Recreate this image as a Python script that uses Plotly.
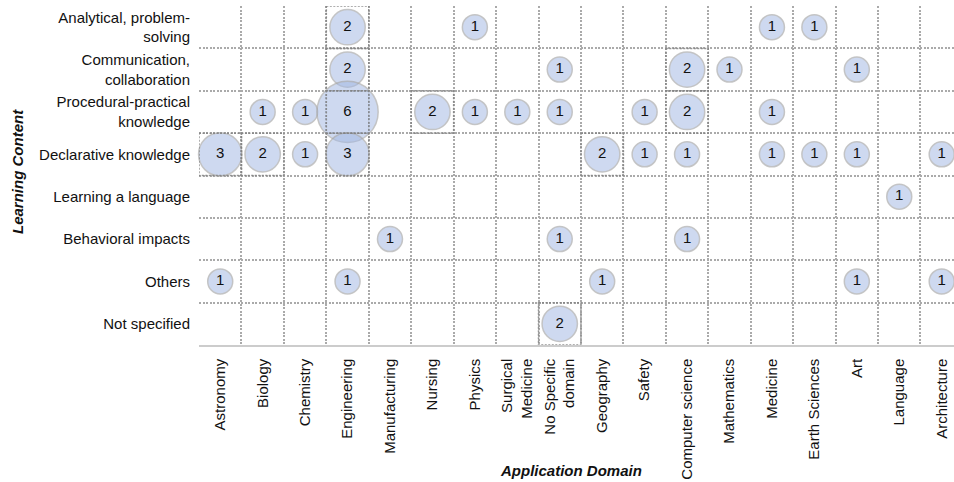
import math
import plotly.graph_objects as go

domains = ["Astronomy", "Biology", "Chemistry", "Engineering", "Manufacturing", "Nursing",
           "Physics", "Surgical<br>Medicine", "No Specific<br>domain", "Geography", "Safety",
           "Computer science", "Mathematics", "Medicine", "Earth Sciences", "Art", "Language",
           "Architecture"]
contents = ["Analytical, problem-<br>solving", "Communication,<br>collaboration",
            "Procedural-practical<br>knowledge", "Declarative knowledge", "Learning a language",
            "Behavioral impacts", "Others", "Not specified"]

#            Ast Bio Che Eng Man Nur Phy Sur NoS Geo Saf CS  Mat Med Ear Art Lan Arc
analytical  = [0, 0, 0, 2, 0, 0, 1, 0, 0, 0, 0, 0, 0, 1, 1, 0, 0, 0]
communic    = [0, 0, 0, 2, 0, 0, 0, 0, 1, 0, 0, 2, 1, 0, 0, 1, 0, 0]
procedural  = [0, 1, 1, 6, 0, 2, 1, 1, 1, 0, 1, 2, 0, 1, 0, 0, 0, 0]
declarative = [3, 2, 1, 3, 0, 0, 0, 0, 0, 2, 1, 1, 0, 1, 1, 1, 0, 1]
language    = [0, 0, 0, 0, 0, 0, 0, 0, 0, 0, 0, 0, 0, 0, 0, 0, 1, 0]
behavioral  = [0, 0, 0, 0, 1, 0, 0, 0, 1, 0, 0, 1, 0, 0, 0, 0, 0, 0]
others      = [1, 0, 0, 1, 0, 0, 0, 0, 0, 1, 0, 0, 0, 0, 0, 1, 0, 1]
unspecified = [0, 0, 0, 0, 0, 0, 0, 0, 2, 0, 0, 0, 0, 0, 0, 0, 0, 0]
counts = [analytical, communic, procedural, declarative, language, behavioral, others, unspecified]

FONT = "Liberation Sans, Arial, sans-serif"
FS = 15

xs, ys, vs = [], [], []
for r, row in enumerate(counts):
    for c, v in enumerate(row):
        if v > 0:
            xs.append(c)
            ys.append(r)
            vs.append(v)

fig = go.Figure()

# boxes around cells with count >= 2
shapes = []
for x, y, v in zip(xs, ys, vs):
    if v >= 2:
        shapes.append(dict(type="rect", xref="x", yref="y", x0=x - 0.5, x1=x + 0.5,
                           y0=y - 0.5, y1=y + 0.5, layer="above",
                           line=dict(color="rgba(130,130,130,0.85)", width=1.5, dash="2px,1.5px")))

fig.add_trace(go.Scatter(
    x=xs, y=ys, mode="markers+text", text=[str(v) for v in vs],
    textposition="middle center",
    textfont=dict(family=FONT, size=FS, color="#111"),
    marker=dict(size=[25 * math.sqrt(v) for v in vs], sizemode="diameter",
                color="rgba(162,183,226,0.74)",
                line=dict(color="rgba(165,165,165,0.9)", width=1.5)),
    cliponaxis=False, hoverinfo="skip", showlegend=False))

nx, ny = len(domains), len(contents)
grid_x = [i - 0.5 for i in range(nx + 1)]
grid_y = [i - 0.5 for i in range(ny + 1)]

fig.update_layout(
    width=954, height=482,
    margin=dict(l=199, r=0, t=6, b=137, autoexpand=False),
    paper_bgcolor="white", plot_bgcolor="white",
    font=dict(family=FONT, size=FS, color="#111"),
    shapes=shapes,
    xaxis=dict(range=[-0.5, 17.29], tickvals=list(range(nx)), ticktext=domains,
               tickangle=-90, showgrid=False, zeroline=False, ticks="",
               ticklabelstandoff=6, automargin=False,
               showline=True, linecolor="#cccccc", linewidth=1.5,
               tickfont=dict(family=FONT, size=FS, color="#111"),
               minor=dict(tickvals=grid_x, showgrid=True, gridcolor="#aaaaaa",
                          griddash="2px,1.5px", gridwidth=1.5, ticks="")),
    yaxis=dict(range=[ny - 0.5, -0.5], tickvals=list(range(ny)), ticktext=contents,
               showgrid=False, zeroline=False, ticks="", ticklabelstandoff=8,
               automargin=False,
               tickfont=dict(family=FONT, size=FS, color="#111"),
               minor=dict(tickvals=grid_y, showgrid=True, gridcolor="#aaaaaa",
                          griddash="2px,1.5px", gridwidth=1.5, ticks="")),
    annotations=[
        dict(text="<b><i>Application Domain</i></b>", xref="paper", yref="paper",
             x=(571 - 199) / 755, y=-(470 - 345) / 339, xanchor="center", yanchor="middle",
             showarrow=False, font=dict(family=FONT, size=FS, color="#111")),
        dict(text="<b><i>Learning Content</i></b>", xref="paper", yref="paper",
             x=-(199 - 17) / 755, y=(345 - 172) / 339, xanchor="center", yanchor="middle",
             textangle=-90, showarrow=False, font=dict(family=FONT, size=FS, color="#111")),
    ],
)

fig.write_html("out.html", config={"displayModeBar": False},
               post_script="document.body.style.margin='0px';document.body.style.overflow='hidden';")
